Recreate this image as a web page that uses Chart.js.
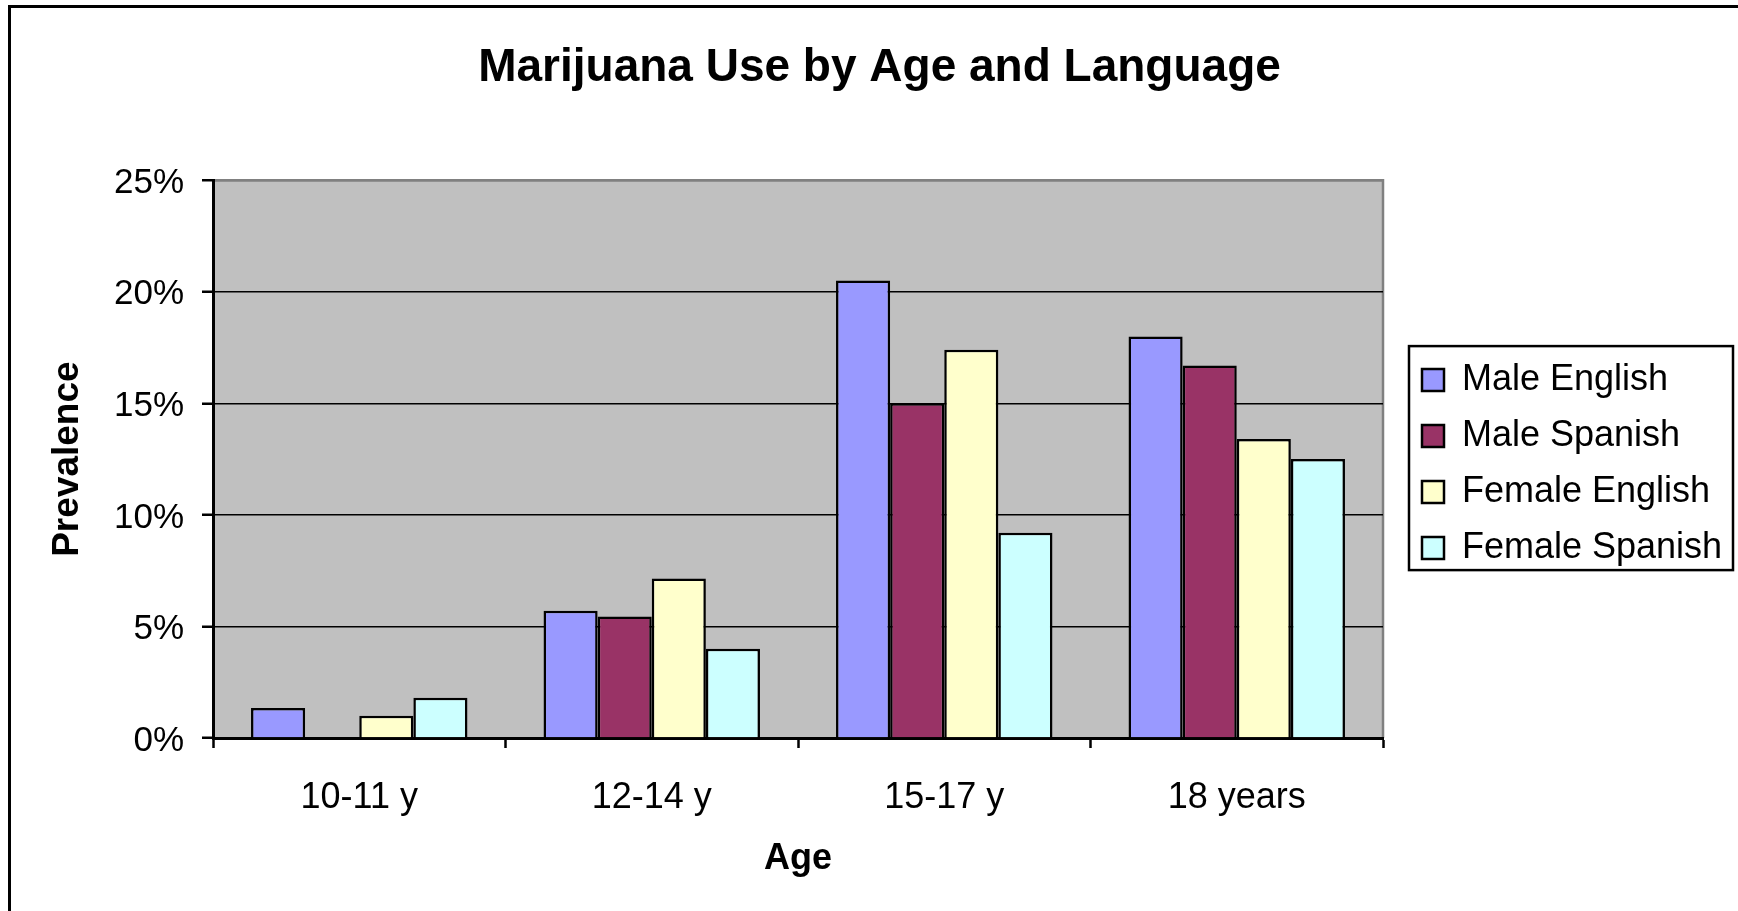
<!DOCTYPE html>
<html>
<head>
<meta charset="utf-8">
<title>Marijuana Use by Age and Language</title>
<script src="https://cdn.jsdelivr.net/npm/chart.js@4.4.1/dist/chart.umd.min.js"></script>
<style>
  html, body { margin: 0; padding: 0; background: #fff; }
  canvas { display: block; }
</style>
</head>
<body>
<canvas id="chart" width="1738" height="911"></canvas>
<script>
// data (percent)
const ageGroups = ['10-11 y', '12-14 y', '15-17 y', '18 years'];
const maleEnglish = [1.35, 5.7, 20.5, 18.0];
const maleSpanish = [null, 5.45, 15.0, 16.7];
const femaleEnglish = [1.0, 7.15, 17.4, 13.4];
const femaleSpanish = [1.8, 4.0, 9.2, 12.5];
const yTicks = [0, 5, 10, 15, 20, 25];

const FONT = "'Liberation Sans', Arial, sans-serif";
Chart.defaults.font.family = FONT;
Chart.defaults.color = '#000';

// grey plot background with grey top/right edge, like Excel
const plotArea = {
	id: 'plotArea',
	beforeDraw(chart) {
		const {ctx, chartArea: a} = chart;
		ctx.save();
		ctx.fillStyle = '#c0c0c0';
		ctx.fillRect(a.left, a.top, a.right - a.left, a.bottom - a.top);
		ctx.strokeStyle = '#808080';
		ctx.lineWidth = 2.5;
		ctx.beginPath();
		ctx.moveTo(a.left, a.top);
		ctx.lineTo(a.right, a.top);
		ctx.lineTo(a.right, a.bottom);
		ctx.stroke();
		ctx.restore();
	}
};

// move legend a bit and draw a frame round it, plus the outer chart frame
const frames = {
	id: 'frames',
	afterLayout(chart) {
		const lg = chart.legend;
		lg.left += 19; lg.right += 19;
		lg.top += 5; lg.bottom += 5;
	},
	afterDraw(chart) {
		const ctx = chart.ctx;
		const hb = chart.legend.legendHitBoxes;
		ctx.save();
		ctx.strokeStyle = '#000';
		ctx.lineWidth = 2.5;
		if (hb && hb.length) {
			const first = hb[0], last = hb[hb.length - 1];
			const x0 = first.left - 13, y0 = first.top - 16;
			const y1 = last.top + last.height + 4;
			ctx.strokeRect(x0, y0, 324, y1 - y0);
		}
		ctx.lineWidth = 3;
		ctx.beginPath();
		ctx.moveTo(9.5, chart.height);
		ctx.lineTo(9.5, 6.5);
		ctx.lineTo(chart.width, 6.5);
		ctx.stroke();
		ctx.restore();
	}
};

const bar = (label, data, color) => ({
	label,
	data,
	backgroundColor: color,
	borderColor: '#000',
	borderWidth: 2.5,
	categoryPercentage: 0.74,
	barPercentage: 1
});

new Chart(document.getElementById('chart'), {
	type: 'bar',
	data: {
		labels: ageGroups,
		datasets: [
			bar('Male English', maleEnglish, '#9999ff'),
			bar('Male Spanish', maleSpanish, '#993366'),
			bar('Female English', femaleEnglish, '#ffffcc'),
			bar('Female Spanish', femaleSpanish, '#ccffff')
		]
	},
	options: {
		responsive: false,
		animation: false,
		devicePixelRatio: 1,
		layout: { padding: { left: 46, right: 25, top: 0, bottom: 0 } },
		plugins: {
			title: {
				display: true,
				text: 'Marijuana Use by Age and Language',
				font: { size: 46, weight: 'bold' },
				padding: { top: 41, bottom: 84 }
			},
			legend: {
				position: 'right',
				fullSize: false,
				maxWidth: 330,
				labels: {
					font: { size: 36 },
					boxWidth: 22,
					boxHeight: 22,
					padding: 20
				}
			},
			tooltip: { enabled: false }
		},
		scales: {
			x: {
				afterFit(scale) { scale.height = 173; },
				grid: {
					offset: true,
					drawOnChartArea: false,
					tickLength: 10,
					tickColor: '#000',
					tickWidth: 2.5
				},
				border: { color: '#000', width: 3 },
				ticks: {
					font: { size: 36 },
					padding: 28,
					maxRotation: 0,
					autoSkip: false
				},
				title: {
					display: true,
					text: 'Age',
					font: { size: 36, weight: 'bold' },
					padding: { top: 0, bottom: 30 }
				}
			},
			y: {
				min: 0,
				max: 25,
				afterFit(scale) { scale.width = 167; },
				afterBuildTicks(scale) { scale.ticks = yTicks.map(v => ({value: v})); },
				grid: {
					color: ctx => ctx.tick && ctx.tick.value === 25 ? '#808080' : '#000',
					lineWidth: ctx => ctx.tick && ctx.tick.value === 25 ? 2.5 : 1.5,
					tickLength: 11,
					tickColor: '#000',
					tickWidth: 2.5
				},
				border: { color: '#000', width: 3 },
				ticks: {
					font: { size: 35 },
					padding: 18,
					labelOffset: 3,
					callback: v => v + '%'
				},
				title: {
					display: true,
					text: 'Prevalence',
					font: { size: 37, weight: 'bold' },
					padding: { top: 0, bottom: 0 }
				}
			}
		}
	},
	plugins: [plotArea, frames]
});
</script>
</body>
</html>
